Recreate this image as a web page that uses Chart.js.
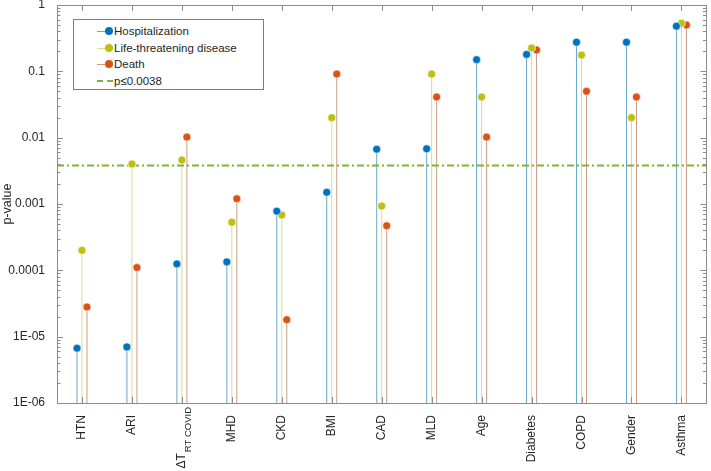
<!DOCTYPE html>
<html>
<head>
<meta charset="utf-8">
<script src="https://cdn.jsdelivr.net/npm/chart.js@4/dist/chart.umd.min.js"></script>
<style>
  html, body { margin: 0; padding: 0; background: #fff; }
  #wrap { position: relative; width: 711px; height: 471px; }
  #legend {
    position: absolute; left: 73px; top: 19px; width: 191px; height: 71px;
    border: 1px solid #7f7f7f; background: #fff; box-sizing: border-box;
    font-family: 'Liberation Sans', Arial, sans-serif; font-size: 11.5px; color: #262626;
  }
  .item { position: absolute; left: 0; height: 16px; line-height: 16px; white-space: nowrap; }
  .item .ln { position: absolute; left: 23px; top: 8px; width: 12px; height: 1px; }
  .item .dot { position: absolute; left: 31px; top: 4px; width: 8px; height: 8px; border-radius: 50%; }
  .item .dash { position: absolute; left: 23px; top: 7px; width: 16px; height: 0; border-top: 2px dashed #7db532; }
  .item span.t { position: absolute; left: 40px; }
</style>
</head>
<body>
<div id="wrap">
  <canvas id="stemChart" width="711" height="471"></canvas>
  <div id="legend"></div>
</div>
<script>
// data
const categories = ['HTN', 'ARI', 'ΔT RT COVID', 'MHD', 'CKD', 'BMI', 'CAD', 'MLD', 'Age', 'Diabetes', 'COPD', 'Gender', 'Asthma'];
const hospitalization = [6.7e-6, 7.0e-6, 1.25e-4, 1.34e-4, 7.8e-4, 1.5e-3, 6.7e-3, 6.8e-3, 0.15, 0.18, 0.275, 0.275, 0.48];
const lifeThreatening = [2.0e-4, 4.0e-3, 4.6e-3, 5.3e-4, 6.8e-4, 0.02, 9.3e-4, 0.091, 0.041, 0.225, 0.176, 0.02, 0.53];
const death = [2.8e-5, 1.1e-4, 0.0102, 1.2e-3, 1.8e-5, 0.091, 4.7e-4, 0.041, 0.0102, 0.21, 0.05, 0.041, 0.50];
const threshold = 0.0038;
const yTickValues = [1e-6, 1e-5, 1e-4, 1e-3, 1e-2, 1e-1, 1];
const yTickLabels = ['1E-06', '1E-05', '0.0001', '0.001', '0.01', '0.1', '1'];

const seriesNames = ['Hospitalization', 'Life-threatening disease', 'Death'];
const seriesValues = [hospitalization, lifeThreatening, death];
const markerColors = ['#0072bd', '#bfbf11', '#d95319'];
const stemColors = ['rgba(80,150,190,0.85)', 'rgba(215,210,120,0.85)', 'rgba(190,140,110,0.85)'];
const offsets = [-0.1, 0, 0.1];
const yMin = 1e-6;

const datasets = [];
seriesValues.forEach((vals, s) => {
  // stems: pairs of points separated by gaps
  const stem = [];
  vals.forEach((v, i) => {
    const x = i + 1 + offsets[s];
    stem.push({ x: x, y: yMin }, { x: x, y: v }, { x: x, y: null });
  });
  datasets.push({
    label: seriesNames[s] + ' stem', data: stem, showLine: true, spanGaps: false,
    borderColor: stemColors[s], borderWidth: 1, pointRadius: 0, order: 5
  });
  datasets.push({
    label: seriesNames[s],
    data: vals.map((v, i) => ({ x: i + 1 + offsets[s], y: v })),
    showLine: false, pointRadius: 4, pointHoverRadius: 4,
    pointBackgroundColor: markerColors[s], pointBorderColor: '#fff', pointBorderWidth: 0.6, order: 1
  });
});
datasets.push({
  label: 'p≤0.0038', data: [{ x: 0.5, y: threshold }, { x: 13.5, y: threshold }],
  showLine: true, borderColor: '#7db532', borderWidth: 2, borderDash: [7, 3, 2, 3],
  pointRadius: 0, order: 3
});

const fontFam = "'Liberation Sans', Arial, sans-serif";

// box, inner tick marks and the subscripted x label
const decorPlugin = {
  id: 'decor',
  afterDraw(chart) {
    const { ctx, chartArea: a, scales } = chart;
    const x = scales.x, y = scales.y;
    ctx.save();
    ctx.strokeStyle = '#8c8c8c';
    ctx.lineWidth = 1;
    ctx.beginPath();
    // y ticks, major and minor
    for (let e = -6; e <= 0; e++) {
      for (let m = 1; m <= 9; m++) {
        const v = m * Math.pow(10, e);
        if (v > 1) break;
        const py = Math.round(y.getPixelForValue(v)) + 0.5;
        const len = m === 1 ? 6 : 3.5;
        ctx.moveTo(a.left, py); ctx.lineTo(a.left + len, py);
        ctx.moveTo(a.right, py); ctx.lineTo(a.right - len, py);
      }
    }
    // x ticks
    for (let i = 1; i <= categories.length; i++) {
      const px = Math.round(x.getPixelForValue(i)) + 0.5;
      ctx.moveTo(px, a.bottom); ctx.lineTo(px, a.bottom - 6);
      ctx.moveTo(px, a.top); ctx.lineTo(px, a.top + 6);
    }
    ctx.stroke();
    ctx.strokeRect(Math.round(a.left) + 0.5, Math.round(a.top) + 0.5, Math.round(a.right - a.left), Math.round(a.bottom - a.top));

    // ΔT with subscript "RT COVID"
    const px = x.getPixelForValue(3);
    ctx.translate(px + 1, a.bottom + 4);
    ctx.rotate(-Math.PI / 2);
    ctx.fillStyle = '#262626';
    ctx.textAlign = 'right';
    ctx.textBaseline = 'middle';
    ctx.font = '9.5px ' + fontFam;
    const sub = 'RT COVID';
    ctx.fillText(sub, 0, 5);
    const w = ctx.measureText(sub).width;
    ctx.font = '12px ' + fontFam;
    ctx.fillText('ΔT', -w - 1, -1);
    ctx.restore();
  }
};

new Chart(document.getElementById('stemChart'), {
  type: 'scatter',
  data: { datasets: datasets },
  options: {
    responsive: false,
    animation: false,
    layout: { padding: { top: 5, right: 4, left: 0, bottom: 0 } },
    plugins: { legend: { display: false }, tooltip: { enabled: false } },
    scales: {
      x: {
        type: 'linear', min: 0.5, max: 13.5,
        afterBuildTicks: (s) => { s.ticks = categories.map((c, i) => ({ value: i + 1 })); },
        afterFit: (s) => { s.height = 68; s.paddingLeft = 0; s.paddingRight = 0; },
        grid: { display: false },
        border: { display: false },
        ticks: {
          autoSkip: false, minRotation: 90, maxRotation: 90, padding: 4,
          color: '#262626', font: { family: fontFam, size: 12 },
          callback: (v) => (v === 3 ? '' : categories[v - 1])
        }
      },
      y: {
        type: 'logarithmic', min: 1e-6, max: 1,
        afterBuildTicks: (s) => { s.ticks = yTickValues.map(v => ({ value: v })); },
        afterFit: (s) => { s.width = 57; s.paddingTop = 0; s.paddingBottom = 0; },
        grid: { display: false },
        border: { display: false },
        ticks: {
          padding: 4, color: '#262626', font: { family: fontFam, size: 12 },
          callback: (v) => { const k = yTickValues.findIndex(t => Math.abs(t - v) / t < 1e-6); return k >= 0 ? yTickLabels[k] : ''; }
        },
        title: { display: true, text: 'p-value', color: '#262626', font: { family: fontFam, size: 12.5 }, padding: { top: 0, bottom: 2 } }
      }
    }
  },
  plugins: [decorPlugin]
});

// legend inside the axes
const legend = document.getElementById('legend');
const legendRows = [
  { name: seriesNames[0], color: markerColors[0], stem: stemColors[0] },
  { name: seriesNames[1], color: markerColors[1], stem: stemColors[1] },
  { name: seriesNames[2], color: markerColors[2], stem: stemColors[2] },
  { name: 'p≤0.0038', dash: true }
];
legendRows.forEach((r, i) => {
  const d = document.createElement('div');
  d.className = 'item';
  d.style.top = (3 + i * 16.7) + 'px';
  if (r.dash) {
    d.innerHTML = '<div class="dash"></div><span class="t"></span>';
  } else {
    d.innerHTML = '<div class="ln" style="background:' + r.stem + '"></div><div class="dot" style="background:' + r.color + '"></div><span class="t"></span>';
  }
  d.querySelector('.t').textContent = r.name;
  legend.appendChild(d);
});
</script>
</body>
</html>
